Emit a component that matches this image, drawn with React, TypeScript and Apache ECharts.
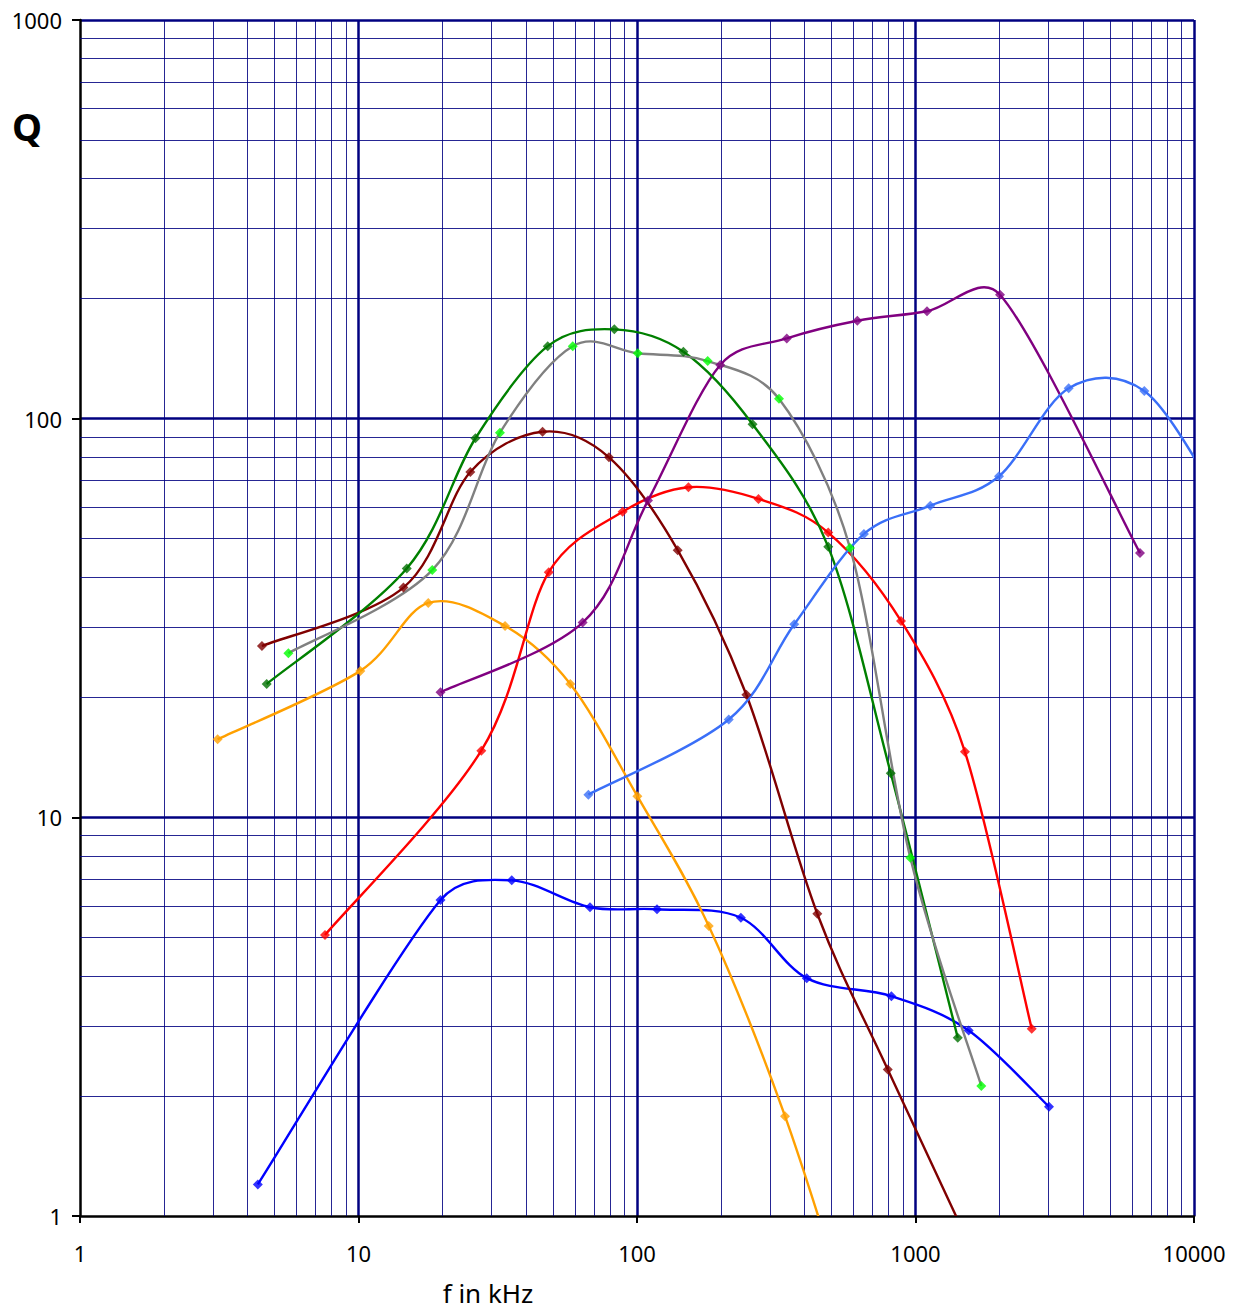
import React, { useEffect, useRef } from "react";
import * as echarts from "echarts";

// ---- axis ticks ----
const X_TICK_LABELS = ["1", "10", "100", "1000", "10000"];
const Y_TICK_LABELS = ["1", "10", "100", "1000"];
const X_MINOR = [
  2, 3, 4, 5, 6, 7, 8, 9,
  20, 30, 40, 50, 60, 70, 80, 90,
  200, 300, 400, 500, 600, 700, 800, 900,
  2000, 3000, 4000, 5000, 6000, 7000, 8000, 9000,
];
const Y_MINOR = [
  2, 3, 4, 5, 6, 7, 8, 9,
  20, 30, 40, 50, 60, 70, 80, 90,
  200, 300, 400, 500, 600, 700, 800, 900,
];

// ---- series values [f in kHz, Q] ----
const BLUE: [number, number][] = [
  [4.35, 1.2], [19.7, 6.2], [35.5, 6.95], [67.8, 5.95], [118, 5.88],
  [236, 5.6], [407, 3.95], [819, 3.56], [1552, 2.92], [3016, 1.88],
];
const ORANGE: [number, number][] = [
  [3.12, 15.7], [10.15, 23.3], [17.8, 34.5], [33.6, 30.2], [57.6, 21.6],
  [100.3, 11.3], [181, 5.34], [340, 1.78], [600, 0.52],
];
const RED: [number, number][] = [
  [7.58, 5.07], [27.6, 14.7], [48.2, 41.2], [88.8, 58.4], [153, 67.3],
  [273, 62.9], [486, 51.8], [887, 31.1], [1505, 14.6], [2614, 2.95],
];
const PURPLE: [number, number][] = [
  [19.7, 20.6], [63.8, 30.8], [109.5, 62.3], [199, 136.4], [345, 159],
  [618, 176], [1100, 186], [2011, 204.6], [6400, 46],
];
const MAROON: [number, number][] = [
  [4.5, 26.9], [14.5, 37.7], [25.2, 73.5], [45.8, 92.7], [79.3, 80],
  [140, 46.8], [247, 20.3], [444, 5.73], [795, 2.33], [2500, 0.42],
];
const GREEN: [number, number][] = [
  [4.68, 21.6], [14.9, 42.1], [26.3, 89.3], [47.8, 152], [82.9, 167.5],
  [146.7, 147.2], [260, 96.8], [486, 47.7], [815, 12.9], [1418, 2.8],
];
const GRAY: [number, number][] = [
  [5.6, 25.8], [18.4, 41.7], [32.2, 92.2], [58.8, 152], [100.6, 145.9],
  [179.4, 139.5], [323.5, 112.2], [582, 47.4], [958, 7.92], [1723, 2.12],
];
const LIGHTBLUE: [number, number][] = [
  [66.9, 11.4], [213.5, 17.6], [367, 30.5], [653, 51.4], [1130, 60.5],
  [1994, 71.7], [3548, 119.2], [6630, 117.3], [12000, 65],
];

const FONT = "Noto Sans";
const NAVY = "#000080";

function clampVec(v: number[], maxLen: number) {
  const l = Math.hypot(v[0], v[1]);
  if (l > maxLen && l > 0) {
    const s = maxLen / l;
    return [v[0] * s, v[1] * s];
  }
  return v;
}

// Smoothed curve (Excel-like Bezier segments, in pixel space via api.coord)
function curveSeries(name: string, data: [number, number][], color: string) {
  const n = data.length;
  return {
    name: name + "-line",
    type: "custom",
    data,
    encode: { x: 0, y: 1 },
    clip: true,
    silent: true,
    z: 3,
    renderItem: (params: any, api: any) => {
      const i = params.dataIndex;
      if (i >= n - 1) return null;
      const p = (k: number) => api.coord(data[Math.max(0, Math.min(n - 1, k))]);
      const p0 = p(i - 1);
      const p1 = p(i);
      const p2 = p(i + 1);
      const p3 = p(i + 2);
      const lim = Math.hypot(p2[0] - p1[0], p2[1] - p1[1]) * 0.4;
      const v1 = clampVec([(p2[0] - p0[0]) / 6, (p2[1] - p0[1]) / 6], lim);
      const v2 = clampVec([(p3[0] - p1[0]) / 6, (p3[1] - p1[1]) / 6], lim);
      return {
        type: "bezierCurve",
        shape: {
          x1: p1[0],
          y1: p1[1],
          x2: p2[0],
          y2: p2[1],
          cpx1: p1[0] + v1[0],
          cpy1: p1[1] + v1[1],
          cpx2: p2[0] - v2[0],
          cpy2: p2[1] - v2[1],
        },
        style: { stroke: color, lineWidth: 2.4, fill: null },
      };
    },
  };
}

function markerSeries(name: string, data: [number, number][], color: string) {
  return {
    name,
    type: "scatter",
    data,
    symbol: "diamond",
    symbolSize: 10,
    clip: true,
    silent: true,
    itemStyle: { color },
    emphasis: { disabled: true },
    z: 4,
  };
}

export default function App() {
  const ref = useRef<HTMLDivElement>(null);

  useEffect(() => {
    if (!ref.current) return;
    const chart = echarts.init(ref.current, null, { renderer: "svg" });
    const groups: [string, [number, number][], string, string][] = [
      ["Q6", BLUE, "#0000ff", "#0000ff"],
      ["Q3", ORANGE, "#ffa000", "#ffa000"],
      ["Q5", RED, "#ff0000", "#ff0000"],
      ["Q7", PURPLE, "#800080", "#800080"],
      ["Q2", MAROON, "#800000", "#800000"],
      ["Q1", GREEN, "#008000", "#007000"],
      ["Q4", GRAY, "#808080", "#00ff00"],
      ["Q8", LIGHTBLUE, "#3a6ff8", "#3a6ff8"],
    ];
    const dataSeries: any[] = [];
    groups.forEach(([name, data, lineColor, markColor]) => {
      dataSeries.push(curveSeries(name, data, lineColor));
      dataSeries.push(markerSeries(name, data, markColor));
    });

    chart.setOption({
      animation: false,
      grid: { left: 80, top: 20, right: 48, bottom: 95, containLabel: false, outerBoundsMode: "none" },
      xAxis: {
        type: "log",
        logBase: 10,
        min: 1,
        max: 10000,
        axisLine: { show: true, onZero: false, lineStyle: { color: "#000", width: 2.5 } },
        axisTick: { show: true, length: 7, lineStyle: { color: "#000", width: 2 } },
        axisLabel: {
          fontSize: 22,
          color: "#000",
          margin: 26,
          fontFamily: FONT,
          formatter: (v: number) => X_TICK_LABELS[Math.round(Math.log10(v))] ?? "",
        },
        splitLine: { show: true, showMinLine: false, lineStyle: { color: NAVY, width: 2.5 } },
        minorTick: { show: false },
        minorSplitLine: { show: false },
      },
      yAxis: {
        type: "log",
        logBase: 10,
        min: 1,
        max: 1000,
        axisLine: { show: true, onZero: false, lineStyle: { color: "#000", width: 2.5 } },
        axisTick: { show: true, length: 8, lineStyle: { color: "#000", width: 2 } },
        axisLabel: {
          fontSize: 22,
          color: "#000",
          margin: 18,
          fontFamily: FONT,
          formatter: (v: number) => Y_TICK_LABELS[Math.round(Math.log10(v))] ?? "",
        },
        splitLine: { show: true, showMinLine: false, lineStyle: { color: NAVY, width: 2.5 } },
        minorTick: { show: false },
        minorSplitLine: { show: false },
      },
      graphic: [
        {
          type: "text",
          x: 27,
          y: 126,
          style: {
            text: "Q",
            fontSize: 38,
            fontWeight: "bold",
            fontFamily: FONT,
            fill: "#000",
            align: "center",
            verticalAlign: "middle",
          },
        },
        {
          type: "text",
          x: 488,
          y: 1293,
          style: {
            text: "f in kHz",
            fontSize: 26,
            fontFamily: FONT,
            fill: "#000",
            align: "center",
            verticalAlign: "middle",
          },
        },
      ],
      series: [
        {
          name: "minor-grid",
          type: "line",
          data: [],
          silent: true,
          markLine: {
            silent: true,
            z: 1,
            symbol: ["none", "none"],
            label: { show: false },
            emphasis: { disabled: true },
            lineStyle: { color: NAVY, width: 1, type: "solid", opacity: 0.85 },
            data: [
              ...X_MINOR.map((v) => ({ xAxis: v })),
              ...Y_MINOR.map((v) => ({ yAxis: v })),
            ],
          },
        },
        ...dataSeries,
      ],
    });
    return () => chart.dispose();
  }, []);

  return (
    <div
      ref={ref}
      style={{ position: "absolute", left: 0, top: 0, width: 1242, height: 1311, background: "#fff" }}
    />
  );
}
